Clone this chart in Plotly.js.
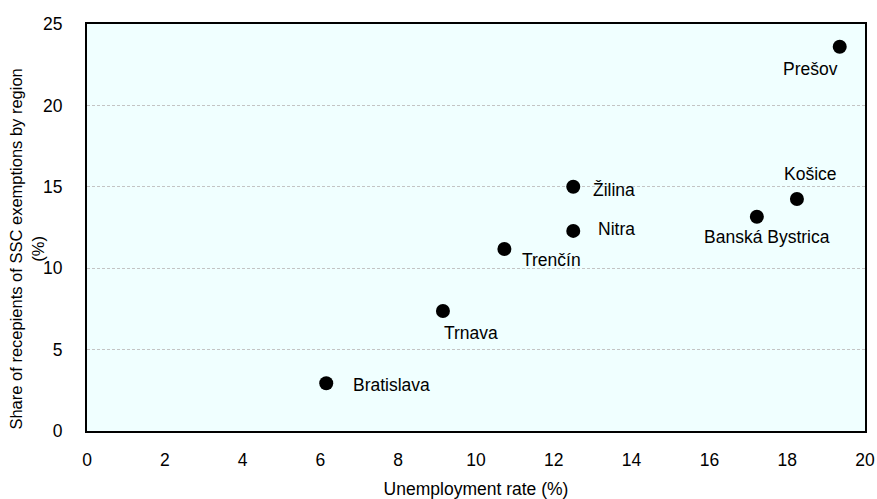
<!DOCTYPE html>
<html>
<head>
<meta charset="utf-8">
<script src="https://cdn.plot.ly/plotly-3.0.1.min.js"></script>
<style>html,body{margin:0;padding:0;background:#fff;}#chart{width:877px;height:499px;}</style>
</head>
<body>
<div id="chart"></div>
<script>
// Data
const regions = ["Bratislava", "Trnava", "Trenčín", "Nitra", "Žilina", "Banská Bystrica", "Košice", "Prešov"];
const unemploymentRate = [6.15, 9.15, 10.73, 12.5, 12.5, 17.22, 18.25, 19.35];
const shareSSC = [2.93, 7.37, 11.18, 12.29, 15.0, 13.16, 14.25, 23.6];
const xTicks = [0, 2, 4, 6, 8, 10, 12, 14, 16, 18, 20];
const yTicks = [0, 5, 10, 15, 20, 25];

// Label placement (style only)
const labelPlacement = {
  "Bratislava":      {xanchor: "left",   xshift: 25,  yshift: -2},
  "Trnava":          {xanchor: "left",   xshift: -1,  yshift: -22},
  "Trenčín":         {xanchor: "left",   xshift: 16,  yshift: -11},
  "Nitra":           {xanchor: "left",   xshift: 23,  yshift: 2},
  "Žilina":          {xanchor: "left",   xshift: 18,  yshift: -3},
  "Banská Bystrica": {xanchor: "center", xshift: 10,  yshift: -20},
  "Košice":          {xanchor: "center", xshift: 14,  yshift: 25},
  "Prešov":          {xanchor: "center", xshift: -29, yshift: -22}
};

const FONT = "Liberation Sans, Arial, sans-serif";
const FS = 17.5;

const trace = {
  type: "scatter",
  mode: "markers",
  x: unemploymentRate,
  y: shareSSC,
  text: regions,
  marker: {color: "#000000", size: 14},
  hoverinfo: "text+x+y"
};

const annotations = regions.map((r, i) => ({
  x: unemploymentRate[i],
  y: shareSSC[i],
  xref: "x", yref: "y",
  text: r,
  showarrow: false,
  xanchor: labelPlacement[r].xanchor,
  yanchor: "middle",
  xshift: labelPlacement[r].xshift,
  yshift: labelPlacement[r].yshift,
  font: {family: FONT, size: FS, color: "#000000"}
}));

annotations.push({
  xref: "paper", yref: "paper",
  x: 0, y: 0.447,
  xanchor: "right", yanchor: "middle",
  xshift: -39,
  textangle: -90,
  showarrow: false,
  text: "Share of recepients of SSC exemptions by region<br>(%)",
  font: {family: FONT, size: 16.5, color: "#000000"}
});

const layout = {
  width: 877,
  height: 499,
  margin: {l: 87, r: 12, t: 24, b: 68, pad: 0},
  paper_bgcolor: "#ffffff",
  plot_bgcolor: "#F0FFFF",
  showlegend: false,
  font: {family: FONT, size: FS, color: "#000000"},
  xaxis: {
    range: [0, 20],
    tickvals: xTicks,
    ticktext: xTicks.map(String),
    showgrid: false,
    zeroline: false,
    showline: true,
    linecolor: "#000000",
    linewidth: 2,
    mirror: true,
    ticks: "",
    ticklabelstandoff: 12,
    tickfont: {family: FONT, size: FS, color: "#000000"},
    title: {text: "Unemployment rate (%)", font: {family: FONT, size: FS, color: "#000000"}, standoff: 14}
  },
  yaxis: {
    range: [0, 25],
    tickvals: yTicks,
    ticktext: yTicks.map(String),
    showgrid: true,
    gridcolor: "#c4c4c4",
    griddash: "3px,2px",
    gridwidth: 1,
    zeroline: false,
    showline: true,
    linecolor: "#000000",
    linewidth: 2,
    mirror: true,
    ticks: "",
    ticklabelstandoff: 19,
    tickfont: {family: FONT, size: FS, color: "#000000"}
  },
  annotations: annotations
};

Plotly.newPlot("chart", [trace], layout, {displayModeBar: false, staticPlot: true});
</script>
</body>
</html>
